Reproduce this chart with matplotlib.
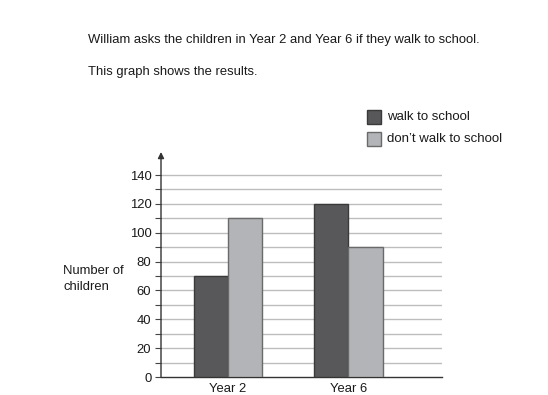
import numpy as np
import matplotlib
matplotlib.use("Agg")
import matplotlib.pyplot as plt
from matplotlib.patches import Rectangle

plt.rcParams['font.family'] = ['Liberation Sans', 'DejaVu Sans']

groups = ["Year 2", "Year 6"]
walk = [70, 120]
dont_walk = [110, 90]
series_labels = ["walk to school", "don\u2019t walk to school"]
major_ticks = [0, 20, 40, 60, 80, 100, 120, 140]

dark = "#58585a"
light = "#b3b4b7"
edge = "#3a3a3a"
txt = "#1a1a1a"

W, H = 548, 395
fig = plt.figure(figsize=(W / 100, H / 100), dpi=100)

# axes placed in pixel terms
x0, x1, y0, y1 = 161, 442, 377, 152
ax = fig.add_axes([x0 / W, 1 - y0 / H, (x1 - x0) / W, (y0 - y1) / H])

x = np.arange(len(groups))
bw = 0.285
ax.bar(x - bw / 2, walk, bw, color=dark, edgecolor=edge, linewidth=1.0, zorder=3)
ax.bar(x + bw / 2, dont_walk, bw, color=light, edgecolor="#6a6a6a", linewidth=1.0, zorder=3)

ax.set_ylim(0, 156)
ax.set_xlim(-0.558, 1.78)

minor = np.arange(10, 150, 10)
for v in minor:
    ax.axhline(v, color="#bdbdbd", linewidth=1.0, zorder=1)

ax.set_yticks(major_ticks)
ax.set_yticks(np.arange(0, 150, 10), minor=True)
ax.tick_params(axis="y", which="both", length=4, width=0.8, color="#444444",
               labelsize=9.4, labelcolor=txt, pad=3)
ax.set_xticks(x)
ax.set_xticklabels(groups)
ax.tick_params(axis="x", length=0, labelsize=9.4, labelcolor=txt, pad=4)

for s in ["top", "right", "left"]:
    ax.spines[s].set_visible(False)
ax.spines["bottom"].set_color("#333333")
ax.spines["bottom"].set_linewidth(1.0)

# y axis with arrow
ax.annotate("", xy=(0, 1.0), xycoords="axes fraction", xytext=(0, 0),
            textcoords="axes fraction",
            arrowprops=dict(arrowstyle="-|>", color="#333333", lw=1.0,
                            mutation_scale=9, shrinkA=0, shrinkB=0))

fig.text(63 / W, 1 - 279 / H, "Number of\nchildren", ha="left", va="center",
         fontsize=9.4, color=txt, linespacing=1.45)

fig.text(88 / W, 1 - 40 / H,
         "William asks the children in Year 2 and Year 6 if they walk to school.",
         ha="left", va="center", fontsize=9.35, color=txt)
fig.text(88 / W, 1 - 72 / H, "This graph shows the results.",
         ha="left", va="center", fontsize=9.35, color=txt)

# legend
for i, (lab, col, ec) in enumerate(zip(series_labels, [dark, light], [edge, "#6a6a6a"])):
    yc = 117 + 22 * i
    fig.patches.append(Rectangle((367 / W, 1 - (yc + 7) / H), 14 / W, 14 / H,
                                 transform=fig.transFigure, facecolor=col,
                                 edgecolor=ec, linewidth=1.0))
    fig.text(387 / W, 1 - yc / H, lab, ha="left", va="center",
             fontsize=9.5, color=txt)

fig.savefig("out.png", dpi=100)
